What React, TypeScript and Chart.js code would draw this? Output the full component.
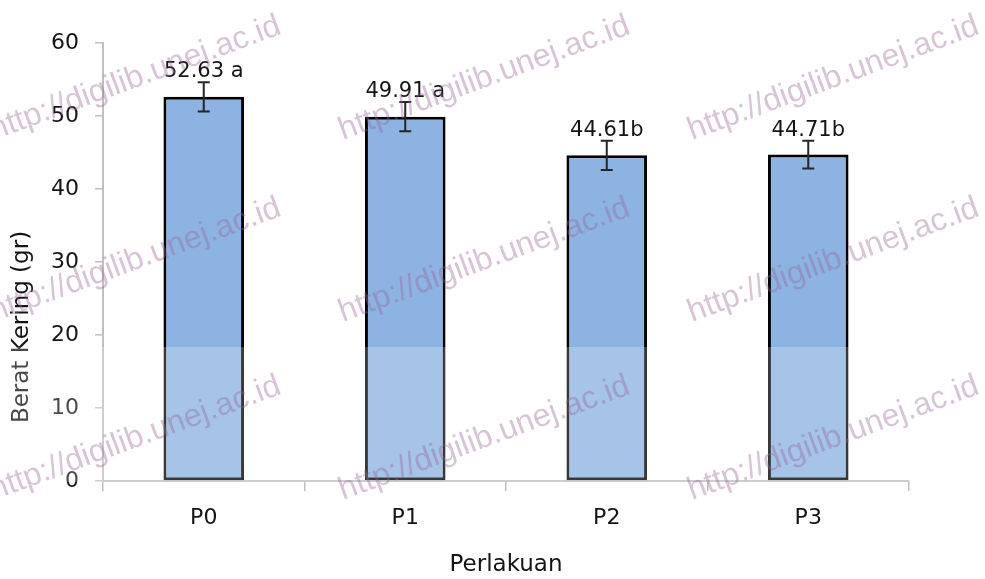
import React, { useEffect, useRef } from "react";
import { Chart, registerables } from "chart.js";

Chart.register(...registerables);

const categories = ["P0", "P1", "P2", "P3"];
const values = [52.63, 49.91, 44.61, 44.71];
const errors = [2.0, 2.0, 2.0, 1.9];
const valueLabels = ["52.63 a", "49.91 a", "44.61b", "44.71b"];
const yMin = 0;
const yMax = 60;
const yStep = 10;
const yTitle = "Berat Kering (gr)";
const xTitle = "Perlakuan";
const watermark = "http://digilib.unej.ac.id";

const FONT = "'DejaVu Sans', 'Noto Sans', sans-serif";

const annotPlugin = {
  id: "annot",
  afterDatasetsDraw(chart: any) {
    const ctx = chart.ctx;
    const ys = chart.scales.y;
    const meta = chart.getDatasetMeta(0);
    ctx.save();
    meta.data.forEach((el: any, i: number) => {
      const x = el.x;
      const yt = ys.getPixelForValue(values[i] + errors[i]);
      const yb = ys.getPixelForValue(values[i] - errors[i]);
      ctx.strokeStyle = "#262626";
      ctx.lineWidth = 2;
      ctx.beginPath();
      ctx.moveTo(x, yt);
      ctx.lineTo(x, yb);
      ctx.moveTo(x - 6, yt);
      ctx.lineTo(x + 6, yt);
      ctx.moveTo(x - 6, yb);
      ctx.lineTo(x + 6, yb);
      ctx.stroke();
      ctx.fillStyle = "#141414";
      ctx.font = `21px ${FONT}`;
      ctx.textAlign = "center";
      ctx.textBaseline = "alphabetic";
      ctx.fillText(valueLabels[i], x, yt - 5);
    });
    // y title
    ctx.translate(22, 327);
    ctx.rotate(-Math.PI / 2);
    ctx.font = `23px ${FONT}`;
    ctx.fillStyle = "#141414";
    ctx.textAlign = "center";
    ctx.textBaseline = "middle";
    ctx.fillText(yTitle, 0, 0);
    ctx.restore();
  },
  afterDraw(chart: any) {
    const ctx = chart.ctx;
    ctx.save();
    ctx.fillStyle = "rgba(255,255,255,0.22)";
    ctx.fillRect(0, 347, 940, 135);
    ctx.font = "32px 'Liberation Sans', Arial, sans-serif";
    ctx.fillStyle = "rgba(150,100,150,0.38)";
    ctx.textAlign = "left";
    ctx.textBaseline = "alphabetic";
    const xs = [-6, 343, 692];
    const ys = [140, 322, 500];
    ys.forEach((yy) =>
      xs.forEach((xx) => {
        ctx.save();
        ctx.translate(xx, yy);
        ctx.rotate((-20.3 * Math.PI) / 180);
        ctx.fillText(watermark, 0, 0);
        ctx.restore();
      })
    );
    ctx.restore();
  },
};

export default function App() {
  const ref = useRef<HTMLCanvasElement | null>(null);
  useEffect(() => {
    if (!ref.current) return;
    const chart = new Chart(ref.current, {
      type: "bar",
      data: {
        labels: categories,
        datasets: [
          {
            data: values,
            backgroundColor: "#8DB3E2",
            borderColor: "#000000",
            borderWidth: 3,
            borderSkipped: false,
            barPercentage: 0.4,
            categoryPercentage: 1,
          },
        ],
      },
      options: {
        animation: false,
        responsive: false,
        devicePixelRatio: 1,
        layout: { padding: { top: 43, right: 76, left: 0, bottom: 0 } },
        plugins: { legend: { display: false }, tooltip: { enabled: false } },
        scales: {
          x: {
            grid: {
              offset: true,
              drawOnChartArea: false,
              tickLength: 10,
              color: "#BFBFBF",
              lineWidth: 1.5,
            },
            border: { color: "#BFBFBF", width: 2 },
            ticks: { color: "#141414", font: { family: FONT, size: 22 }, padding: 14 },
            title: {
              display: true,
              text: xTitle,
              color: "#141414",
              font: { family: FONT, size: 23 },
              padding: { top: 0, bottom: 0 },
            },
            afterFit: (s: any) => {
              s.height = 98;
            },
          },
          y: {
            min: yMin,
            max: yMax,
            ticks: {
              stepSize: yStep,
              color: "#141414",
              font: { family: FONT, size: 22 },
              padding: 16,
            },
            grid: { drawOnChartArea: false, tickLength: 8, color: "#BFBFBF", lineWidth: 1.5 },
            border: { color: "#BFBFBF", width: 2 },
            afterFit: (s: any) => {
              s.width = 103;
            },
          },
        },
      },
      plugins: [annotPlugin],
    });
    return () => chart.destroy();
  }, []);
  return (
    <div style={{ position: "absolute", left: 0, top: 0, width: 985, height: 579, background: "#fff" }}>
      <canvas ref={ref} width={985} height={579} />
    </div>
  );
}
